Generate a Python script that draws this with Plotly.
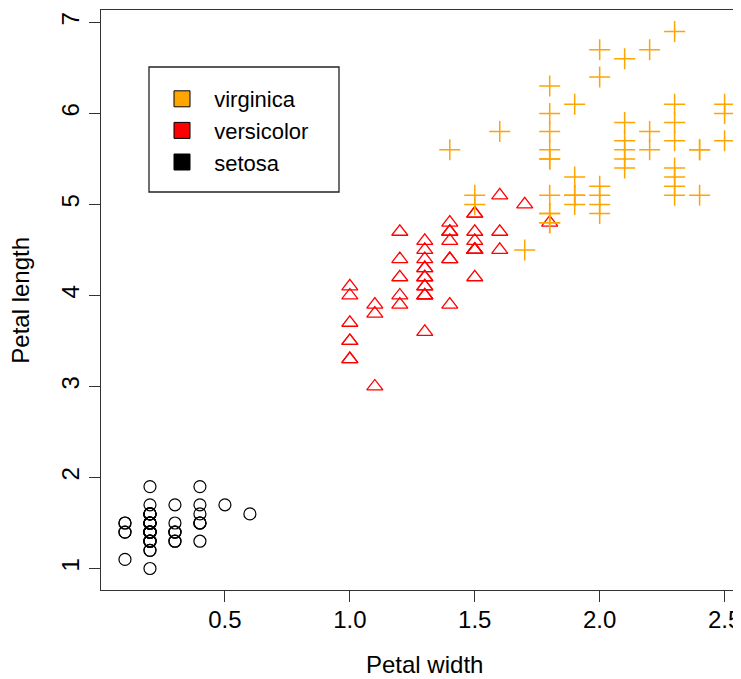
import plotly.graph_objects as go

setosa_w = [0.2,0.2,0.2,0.2,0.2,0.4,0.3,0.2,0.2,0.1,0.2,0.2,0.1,0.1,0.2,0.4,0.4,0.3,0.3,0.3,
            0.2,0.4,0.2,0.5,0.2,0.2,0.4,0.2,0.2,0.2,0.2,0.4,0.1,0.2,0.2,0.2,0.2,0.1,0.2,0.2,
            0.3,0.3,0.2,0.6,0.4,0.3,0.2,0.2,0.2,0.2]
setosa_l = [1.4,1.4,1.3,1.5,1.4,1.7,1.4,1.5,1.4,1.5,1.5,1.6,1.4,1.1,1.2,1.5,1.3,1.4,1.7,1.5,
            1.7,1.5,1.0,1.7,1.9,1.6,1.6,1.5,1.4,1.6,1.6,1.5,1.5,1.4,1.5,1.2,1.3,1.4,1.3,1.5,
            1.3,1.3,1.3,1.6,1.9,1.4,1.6,1.4,1.5,1.4]
versicolor_w = [1.4,1.5,1.5,1.3,1.5,1.3,1.6,1.0,1.3,1.4,1.0,1.5,1.0,1.4,1.3,1.4,1.5,1.0,1.5,1.1,
                1.8,1.3,1.5,1.2,1.3,1.4,1.4,1.7,1.5,1.0,1.1,1.0,1.2,1.6,1.5,1.6,1.5,1.3,1.3,1.3,
                1.2,1.4,1.2,1.0,1.3,1.2,1.3,1.3,1.1,1.3]
versicolor_l = [4.7,4.5,4.9,4.0,4.6,4.5,4.7,3.3,4.6,3.9,3.5,4.2,4.0,4.7,3.6,4.4,4.5,4.1,4.5,3.9,
                4.8,4.0,4.9,4.7,4.3,4.4,4.8,5.0,4.5,3.5,3.8,3.7,3.9,5.1,4.5,4.5,4.7,4.4,4.1,4.0,
                4.4,4.6,4.0,3.3,4.2,4.2,4.2,4.3,3.0,4.1]
virginica_w = [2.5,1.9,2.1,1.8,2.2,2.1,1.7,1.8,1.8,2.5,2.0,1.9,2.1,2.0,2.4,2.3,1.8,2.2,2.3,1.5,
               2.3,2.0,2.0,1.8,2.1,1.8,1.8,1.8,2.1,1.6,1.9,2.0,2.2,1.5,1.4,2.3,2.4,1.8,1.8,2.1,
               2.4,2.3,1.9,2.3,2.5,2.3,1.9,2.0,2.3,1.8]
virginica_l = [6.0,5.1,5.9,5.6,5.8,6.6,4.5,6.3,5.8,6.1,5.1,5.3,5.5,5.0,5.1,5.3,5.5,6.7,6.9,5.0,
               5.7,4.9,6.7,4.9,5.7,6.0,4.8,4.9,5.6,5.8,6.1,6.4,5.6,5.1,5.6,6.1,5.6,5.5,4.8,5.4,
               5.6,5.1,5.1,5.9,5.7,5.2,5.0,5.2,5.4,5.1]

legend_names = ["virginica", "versicolor", "setosa"]
legend_colors = ["orange", "red", "black"]

x_ticks = [0.5, 1.0, 1.5, 2.0, 2.5]
x_ticklabels = ["0.5", "1.0", "1.5", "2.0", "2.5"]
y_ticks = [1, 2, 3, 4, 5, 6, 7]

FONT = "Liberation Sans, Arial, sans-serif"
fig = go.Figure()

fig.add_trace(go.Scatter(x=setosa_w, y=setosa_l, mode="markers", showlegend=False,
                         marker=dict(symbol="circle-open", size=12, color="black",
                                     line=dict(width=1.2, color="black"))))
fig.add_trace(go.Scatter(x=versicolor_w, y=versicolor_l, mode="markers", showlegend=False,
                         marker=dict(symbol="triangle-up-open", size=14, color="red",
                                     line=dict(width=1.3, color="red"))))
fig.add_trace(go.Scatter(x=virginica_w, y=virginica_l, mode="markers", showlegend=False,
                         marker=dict(symbol="cross-thin-open", size=15, color="orange",
                                     line=dict(width=1.5, color="orange"))))

for name, col in zip(legend_names, legend_colors):
    fig.add_trace(go.Scatter(x=[None], y=[None], mode="markers", name="\u00a0\u00a0" + name,
                             marker=dict(symbol="square", size=16, color=col,
                                         line=dict(width=1, color="black"))))

fig.add_shape(type="rect", xref="paper", yref="paper",
              x0=(149 - 101) / 640, x1=(339 - 101) / 640,
              y0=(590 - 192) / 580, y1=(590 - 67) / 580,
              line=dict(color="#222", width=1.3), fillcolor="rgba(0,0,0,0)")

fig.add_annotation(text="Petal width", x=1.3, xref="x", y=-0.129, yref="paper",
                   showarrow=False, font=dict(size=24, color="black", family=FONT),
                   yanchor="middle")
fig.add_annotation(text="Petal length", x=-0.127, xref="paper", y=0.5, yref="paper",
                   showarrow=False, textangle=-90,
                   font=dict(size=24, color="black", family=FONT),
                   xanchor="center", yanchor="middle")

fig.update_layout(
    width=733, height=671,
    margin=dict(l=93, r=0, t=2, b=89),
    paper_bgcolor="white", plot_bgcolor="white",
    font=dict(family=FONT, size=24, color="black"),
    showlegend=True,
    legend=dict(x=(162 - 101) / 640, y=(590 - 78) / 580, xanchor="left", yanchor="top",
                bgcolor="rgba(0,0,0,0)", borderwidth=0,
                font=dict(size=22, family=FONT, color="black"),
                traceorder="normal"),
    xaxis=dict(range=[0.004, 2.5657], tickvals=x_ticks, ticktext=x_ticklabels,
               showgrid=False, zeroline=False, showline=True, mirror=True,
               linecolor="#333", linewidth=1.3, ticks="outside", ticklen=11,
               tickcolor="#333", tickwidth=1.3, tickfont=dict(size=24),
               automargin=False, ticklabeloverflow="allow", ticklabelstandoff=-3),
    yaxis=dict(range=[0.764, 7.136], tickvals=y_ticks,
               showgrid=False, zeroline=False, showline=True, mirror=False,
               linecolor="#333", linewidth=1.3, ticks="outside", ticklen=11,
               tickcolor="#333", tickwidth=1.3, tickangle=-90, tickfont=dict(size=24),
               automargin=False, ticklabeloverflow="allow"),
)

fig.write_html("out.html")
